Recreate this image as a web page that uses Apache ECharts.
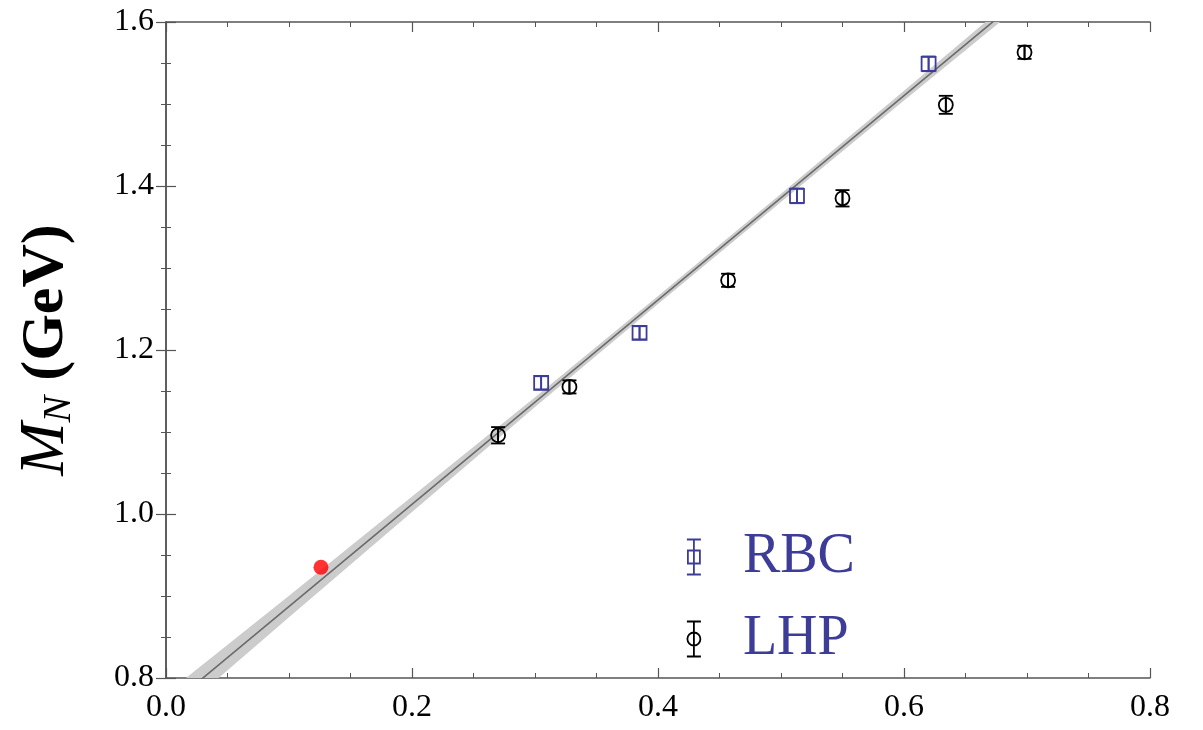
<!DOCTYPE html>
<html>
<head>
<meta charset="utf-8">
<script src="https://cdn.jsdelivr.net/npm/echarts@6/dist/echarts.min.js"></script>
<style>html,body{margin:0;padding:0;background:#fff}#c{width:1203px;height:730px}</style>
</head>
<body>
<div id="c"></div>
<script>
// ---- data ----
const xTicks = [0.0, 0.2, 0.4, 0.6, 0.8];
const yTicks = [0.8, 1.0, 1.2, 1.4, 1.6];

const rbcX   = [0.305, 0.385, 0.513, 0.620];
const rbcY   = [1.160, 1.221, 1.388, 1.549];
const rbcErr = [0.008, 0.008, 0.009, 0.009];

const lhpX   = [0.270, 0.328, 0.457, 0.550, 0.634, 0.698];
const lhpY   = [1.096, 1.155, 1.285, 1.385, 1.499, 1.563];
const lhpErr = [0.010, 0.008, 0.008, 0.010, 0.011, 0.008];

const physX = [0.126];
const physY = [0.935];

const fitX = [0.0, 0.8];
const fitY = [0.7626, 1.7594];

const bandX  = [0.0, 0.1, 0.2, 0.3, 0.4, 0.5, 0.6, 0.7, 0.8];
const bandLo = [0.7446, 0.8742, 1.0023, 1.1304, 1.2560, 1.3806, 1.5042, 1.6268, 1.7494];
const bandHi = [0.7806, 0.9002, 1.0213, 1.1424, 1.2660, 1.3906, 1.5162, 1.6428, 1.7694];

// ---- styling ----
const BLUE = '#3d3d99';
const AXC = '#555555';
const FONT = '"Liberation Serif", "DejaVu Serif", serif';

function errRender(kind, color) {
  return function (params, api) {
    const x = api.value(0), y = api.value(1), e = api.value(2);
    const c = api.coord([x, y]);
    const t = api.coord([x, y + e]);
    const b = api.coord([x, y - e]);
    const cap = 7;
    const st = { stroke: color, lineWidth: 1.8, fill: 'none' };
    const kids = [
      { type: 'line', shape: { x1: c[0], y1: t[1], x2: c[0], y2: b[1] }, style: st },
      { type: 'line', shape: { x1: c[0] - cap, y1: t[1], x2: c[0] + cap, y2: t[1] }, style: st },
      { type: 'line', shape: { x1: c[0] - cap, y1: b[1], x2: c[0] + cap, y2: b[1] }, style: st }
    ];
    if (kind === 'square') {
      kids.push({ type: 'rect', shape: { x: c[0] - 7, y: c[1] - 7, width: 14, height: 14 }, style: st });
      kids.push({ type: 'line', shape: { x1: c[0], y1: c[1] - 7, x2: c[0], y2: c[1] + 7 }, style: st });
    } else {
      kids.push({ type: 'circle', shape: { cx: c[0], cy: c[1], r: 7 }, style: st });
      kids.push({ type: 'line', shape: { x1: c[0], y1: c[1] - 7, x2: c[0], y2: c[1] + 7 }, style: st });
    }
    return { type: 'group', children: kids };
  };
}

function bandRender(params, api) {
  if (params.dataIndex !== 0) return null;
  const pts = [];
  for (let i = 0; i < bandX.length; i++) pts.push(api.coord([bandX[i], bandHi[i]]));
  for (let i = bandX.length - 1; i >= 0; i--) pts.push(api.coord([bandX[i], bandLo[i]]));
  return { type: 'polygon', shape: { points: pts }, style: { fill: '#cccccc', stroke: 'none' } };
}

const rbcIcon = 'path://M0,0H14M0,35H14M7,0V35M1,11H13V24H1Z';
const lhpIcon = 'path://M0,0H14M0,35H14M7,0V35M13.5,17.5A6.5,6.5 0 1 1 0.5,17.5A6.5,6.5 0 1 1 13.5,17.5Z';

const axisCommon = {
  type: 'value',
  axisLine: { show: true, lineStyle: { color: AXC, width: 1.5 } },
  axisTick: { show: true, inside: true, length: 10, lineStyle: { color: AXC, width: 1.2 } },
  minorTick: { show: true, splitNumber: 4, length: 5, lineStyle: { color: AXC, width: 1 } },
  splitLine: { show: false },
  minorSplitLine: { show: false }
};

const chart = echarts.init(document.getElementById('c'), null, { renderer: 'canvas' });
chart.setOption({
  animation: false,
  backgroundColor: '#ffffff',
  grid: { left: 166, right: 53, top: 22, bottom: 52 },
  legend: {
    orient: 'vertical',
    left: 681,
    top: 522,
    itemWidth: 14,
    itemHeight: 35,
    itemGap: 22,
    selectedMode: false,
    textStyle: {
      fontFamily: FONT, fontSize: 56, color: BLUE, lineHeight: 60,
      rich: { t: { fontFamily: FONT, fontSize: 56, color: BLUE, padding: [0, 0, 0, 37], lineHeight: 60 } }
    },
    formatter: function (n) { return '{t|' + n + '}'; },
    data: [
      { name: 'RBC', icon: rbcIcon, itemStyle: { color: 'rgba(0,0,0,0)', borderColor: BLUE, borderWidth: 1.8 } },
      { name: 'LHP', icon: lhpIcon, itemStyle: { color: 'rgba(0,0,0,0)', borderColor: '#000000', borderWidth: 1.8 } }
    ]
  },
  xAxis: [
    Object.assign({}, axisCommon, {
      min: xTicks[0], max: xTicks[xTicks.length - 1], interval: 0.2, position: 'bottom',
      axisLabel: { show: true, margin: 14, fontFamily: FONT, fontSize: 32, color: '#000',
        formatter: function (v) { return v.toFixed(1); } }
    }),
    Object.assign({}, axisCommon, {
      min: xTicks[0], max: xTicks[xTicks.length - 1], interval: 0.2, position: 'top',
      axisLabel: { show: false }
    })
  ],
  yAxis: [
    Object.assign({}, axisCommon, {
      min: yTicks[0], max: yTicks[yTicks.length - 1], interval: 0.2, position: 'left',
      axisLabel: { show: true, margin: 12, fontFamily: FONT, fontSize: 32, color: '#000',
        formatter: function (v) { return v.toFixed(1); } },
      name: '{i|M}{s|N}{n| (GeV)}',
      nameLocation: 'middle',
      nameGap: 87,
      nameRotate: 90,
      nameTextStyle: {
        rich: {
          i: { fontFamily: FONT, fontStyle: 'italic', fontSize: 64, color: '#000' },
          s: { fontFamily: FONT, fontStyle: 'italic', fontSize: 40, color: '#000', verticalAlign: 'bottom', padding: [26, 0, 0, 0] },
          n: { fontFamily: FONT, fontWeight: 'bold', fontSize: 60, color: '#000' }
        }
      }
    }),
    Object.assign({}, axisCommon, {
      min: yTicks[0], max: yTicks[yTicks.length - 1], interval: 0.2, position: 'right',
      axisLabel: { show: false }
    })
  ],
  series: [
    {
      type: 'custom', name: 'band', silent: true, clip: true, z: 1,
      renderItem: bandRender,
      data: bandX.map((x, i) => [x, bandLo[i], bandHi[i]])
    },
    {
      type: 'line', name: 'fit', silent: true, z: 2, clip: true,
      symbol: 'none', lineStyle: { color: '#6a6a6a', width: 1.6 },
      data: fitX.map((x, i) => [x, fitY[i]])
    },
    {
      type: 'custom', name: 'RBC', z: 5, clip: false,
      itemStyle: { color: BLUE },
      renderItem: errRender('square', BLUE),
      data: rbcX.map((x, i) => [x, rbcY[i], rbcErr[i]])
    },
    {
      type: 'custom', name: 'LHP', z: 5, clip: false,
      itemStyle: { color: '#000' },
      renderItem: errRender('circle', '#000'),
      data: lhpX.map((x, i) => [x, lhpY[i], lhpErr[i]])
    },
    {
      type: 'scatter', name: 'phys', z: 6,
      symbol: 'circle', symbolSize: 15,
      itemStyle: { color: '#ff0000' },
      data: physX.map((x, i) => [x, physY[i]])
    }
  ]
});
</script>
</body>
</html>
